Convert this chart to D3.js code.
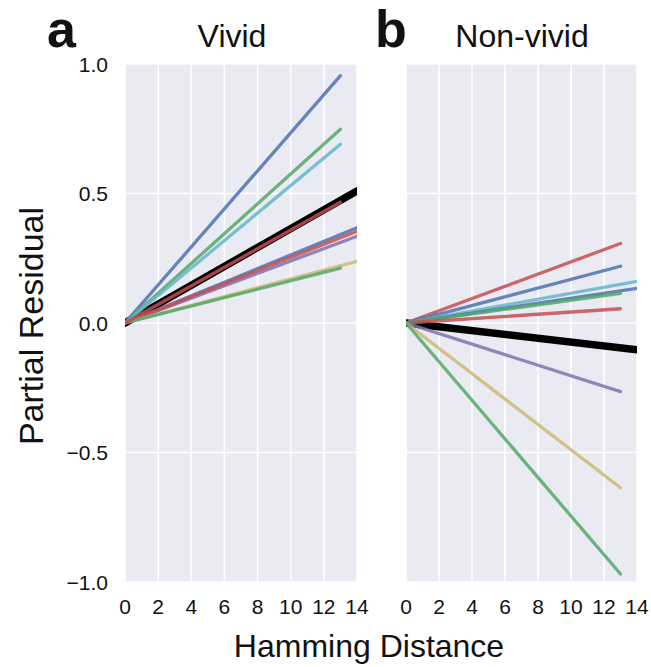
<!DOCTYPE html>
<html>
<head>
<meta charset="utf-8">
<script src="https://cdn.jsdelivr.net/npm/d3@7"></script>
<style>
  body { margin: 0; background: #fff; }
  text { font-family: "Liberation Sans", Arial, sans-serif; fill: #111; }
</style>
</head>
<body>
<svg id="chart" width="651" height="667"></svg>
<script>
// colours (seaborn "deep")
const blue = "#4C72B0", green = "#55A868", red = "#C44E52",
      purple = "#8172B2", yellow = "#CCB974", cyan = "#64B5CD";

const xTicks = [0, 2, 4, 6, 8, 10, 12, 14];
const yTicks = [1.0, 0.5, 0.0, -0.5, -1.0];

// each line: [x, y] points
const vividLines = [
  { color: "#000", thick: true, pts: [[0, 0], [14, 0.51]] },
  { color: blue,   pts: [[0, 0], [13, 0.955]] },
  { color: green,  pts: [[0, 0], [13, 0.748]] },
  { color: cyan,   pts: [[0, 0], [13, 0.69]] },
  { color: blue,   pts: [[0, 0], [14, 0.368]] },
  { color: purple, pts: [[0, 0], [14, 0.335]] },
  { color: red,    pts: [[0, 0], [14, 0.354]] },
  { color: yellow, pts: [[0, 0], [14, 0.238]] },
  { color: green,  pts: [[0, 0], [13, 0.212]] },
  { color: red,    pts: [[0, 0], [13, 0.466]] }
];

const nonVividLines = [
  { color: "#000", thick: true, pts: [[0, 0], [14, -0.103]] },
  { color: red,    pts: [[0, 0], [13, 0.307]] },
  { color: blue,   pts: [[0, 0], [13, 0.219]] },
  { color: cyan,   pts: [[0, 0], [14, 0.161]] },
  { color: blue,   pts: [[0, 0], [14, 0.134]] },
  { color: green,  pts: [[0, 0], [13, 0.114]] },
  { color: red,    pts: [[0, 0], [13, 0.055]] },
  { color: purple, pts: [[0, 0], [13, -0.265]] },
  { color: yellow, pts: [[0, 0], [13, -0.636]] },
  { color: green,  pts: [[0, 0], [13, -0.969]] }
];

const panels = [
  { letter: "a", letterX: 47, title: "Vivid", titleX: 232, left: 125, right: 357, lines: vividLines, showY: true },
  { letter: "b", letterX: 375, title: "Non-vivid", titleX: 522, left: 406, right: 637, lines: nonVividLines, showY: false }
];

const svg = d3.select("#chart");
const plotTop = 64, plotBottom = 582;
const y = d3.scaleLinear().domain([-1, 1]).range([plotBottom, plotTop]);

panels.forEach((p, i) => {
  const x = d3.scaleLinear().domain([0, 14]).range([p.left, p.right]);
  const g = svg.append("g");
  const clipId = "clip" + i;

  svg.append("clipPath").attr("id", clipId)
    .append("rect")
    .attr("x", p.left).attr("y", plotTop)
    .attr("width", p.right - p.left).attr("height", plotBottom - plotTop);

  // background
  g.append("rect")
    .attr("x", p.left).attr("y", plotTop)
    .attr("width", p.right - p.left).attr("height", plotBottom - plotTop)
    .attr("fill", "#EAEAF2");

  // grid
  g.selectAll(".vg").data(xTicks).enter().append("line")
    .attr("x1", d => x(d)).attr("x2", d => x(d))
    .attr("y1", plotTop).attr("y2", plotBottom)
    .attr("stroke", "#fff").attr("stroke-width", 1.6);
  g.selectAll(".hg").data(yTicks).enter().append("line")
    .attr("x1", p.left).attr("x2", p.right)
    .attr("y1", d => y(d)).attr("y2", d => y(d))
    .attr("stroke", "#fff").attr("stroke-width", 1.6);

  // lines
  const line = d3.line().x(d => x(d[0])).y(d => y(d[1]));
  g.append("g").attr("clip-path", `url(#${clipId})`)
    .selectAll("path").data(p.lines).enter().append("path")
    .attr("d", d => line(d.pts))
    .attr("fill", "none")
    .attr("stroke", d => d.color)
    .attr("stroke-opacity", d => d.thick ? 1 : 0.85)
    .attr("stroke-width", d => d.thick ? 7.5 : 3.3)
    .attr("stroke-linecap", "round");

  // x ticks
  g.selectAll(".xt").data(xTicks).enter().append("text")
    .attr("x", d => x(d)).attr("y", 614)
    .attr("text-anchor", "middle")
    .attr("font-size", 21)
    .text(d => d);

  if (p.showY) {
    g.selectAll(".yt").data(yTicks).enter().append("text")
      .attr("x", 108).attr("y", d => y(d) + 7.5)
      .attr("text-anchor", "end")
      .attr("font-size", 21)
      .text(d => d3.format(".1f")(d).replace("-", "\u2212"));
  }

  // title + panel letter
  g.append("text")
    .attr("x", p.titleX).attr("y", 47)
    .attr("text-anchor", "middle")
    .attr("font-size", 32)
    .text(p.title);
  g.append("text")
    .attr("x", p.letterX).attr("y", 47)
    .attr("font-size", 52)
    .attr("font-weight", "bold")
    .text(p.letter);
});

svg.append("text")
  .attr("x", 369).attr("y", 657)
  .attr("text-anchor", "middle")
  .attr("font-size", 32)
  .text("Hamming Distance");

svg.append("text")
  .attr("transform", "translate(43, 326) rotate(-90)")
  .attr("text-anchor", "middle")
  .attr("font-size", 34)
  .text("Partial Residual");
</script>
</body>
</html>
